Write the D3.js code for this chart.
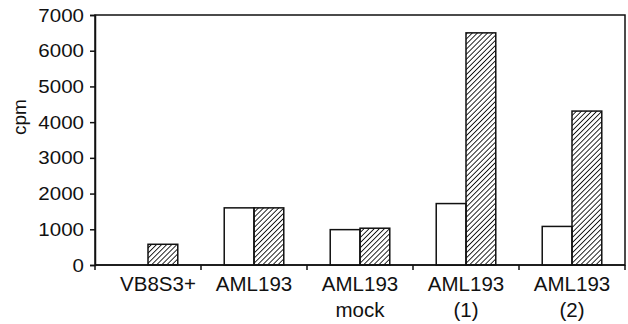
<!DOCTYPE html>
<html>
<head>
<meta charset="utf-8">
<script src="https://cdn.jsdelivr.net/npm/d3@7"></script>
<style>
  body { margin: 0; background: #fff; }
  svg { display: block; font-family: "Liberation Sans", Arial, sans-serif; }
</style>
</head>
<body>
<div id="chart"></div>
<script>
const categories = ['VB8S3+', 'AML193', 'AML193\nmock', 'AML193\n(1)', 'AML193\n(2)'];
const openValues = [0, 1600, 990, 1720, 1080];
const hatchedValues = [580, 1600, 1030, 6500, 4310];
const yTicks = [0, 1000, 2000, 3000, 4000, 5000, 6000, 7000];

const width = 628, height = 324;
const margin = { top: 15, right: 3, bottom: 59, left: 95 };

const svg = d3.select('#chart').append('svg')
  .attr('width', width)
  .attr('height', height);

const defs = svg.append('defs');
defs.append('pattern')
  .attr('id', 'hatch')
  .attr('patternUnits', 'userSpaceOnUse')
  .attr('width', 3.6)
  .attr('height', 3.6)
  .attr('patternTransform', 'rotate(45)')
  .append('line')
  .attr('x1', 0).attr('y1', 0)
  .attr('x2', 0).attr('y2', 3.6)
  .attr('stroke', '#111')
  .attr('stroke-width', 1.8);

const x = d3.scaleBand()
  .domain(categories)
  .range([margin.left, width - margin.right])
  .paddingInner(0)
  .paddingOuter(0);

const inner = d3.scaleBand()
  .domain(['open', 'hatched'])
  .range([0, x.bandwidth()])
  .paddingOuter(0.78)
  .paddingInner(0);

const y = d3.scaleLinear()
  .domain([0, 7000])
  .range([height - margin.bottom, margin.top]);

const data = categories.map((c, i) => ({ cat: c, open: openValues[i], hatched: hatchedValues[i] }));

// frame
svg.append('rect')
  .attr('x', margin.left)
  .attr('y', margin.top)
  .attr('width', width - margin.left - margin.right)
  .attr('height', height - margin.top - margin.bottom)
  .attr('fill', 'none')
  .attr('stroke', '#111')
  .attr('stroke-width', 1.5);

const groups = svg.selectAll('.group')
  .data(data)
  .enter()
  .append('g')
  .attr('transform', d => `translate(${x(d.cat)},0)`);

groups.filter(d => d.open > 0).append('rect')
  .attr('x', inner('open'))
  .attr('y', d => y(d.open))
  .attr('width', inner.bandwidth())
  .attr('height', d => y(0) - y(d.open))
  .attr('fill', '#fff')
  .attr('stroke', '#111')
  .attr('stroke-width', 1.5);

groups.append('rect')
  .attr('x', inner('hatched'))
  .attr('y', d => y(d.hatched))
  .attr('width', inner.bandwidth())
  .attr('height', d => y(0) - y(d.hatched))
  .attr('fill', 'url(#hatch)')
  .attr('stroke', '#111')
  .attr('stroke-width', 1.5);

// y axis
const yAxis = svg.append('g')
  .attr('transform', `translate(${margin.left},0)`)
  .call(d3.axisLeft(y).tickValues(yTicks).tickSize(5).tickPadding(6).tickFormat(d3.format('d')));
yAxis.select('.domain').attr('stroke', '#111').attr('stroke-width', 1.5);
yAxis.selectAll('.tick line').attr('stroke', '#111').attr('stroke-width', 1.5);
// the source font is a little wider than Liberation Sans, so stretch it
yAxis.selectAll('.tick text')
  .attr('x', -11 / 1.08)
  .attr('transform', 'scale(1.08,1)')
  .attr('font-size', 19)
  .attr('fill', '#111')
  .attr('font-family', '"Liberation Sans", Arial, sans-serif');

// x axis
const bounds = categories.map(c => x(c)).concat([x(categories[categories.length - 1]) + x.bandwidth()]);
const xAxis = svg.append('g');
xAxis.append('line')
  .attr('x1', margin.left).attr('x2', width - margin.right)
  .attr('y1', y(0)).attr('y2', y(0))
  .attr('stroke', '#111').attr('stroke-width', 1.5);
xAxis.selectAll('.xtick')
  .data(bounds)
  .enter()
  .append('line')
  .attr('x1', d => d).attr('x2', d => d)
  .attr('y1', y(0)).attr('y2', y(0) + 5)
  .attr('stroke', '#111').attr('stroke-width', 1.5);

const labels = xAxis.selectAll('.xlabel')
  .data(categories)
  .enter()
  .append('text')
  .attr('text-anchor', 'middle')
  .attr('font-size', 20.5)
  .attr('fill', '#111')
  // first label sits a bit right of its slot centre in the original
  .attr('transform', (d, i) => `translate(${x(d) + x.bandwidth() / 2 + (i === 0 ? 10 : 0)},${y(0) + 26})`);
labels.selectAll('tspan')
  .data(d => d.split('\n'))
  .enter()
  .append('tspan')
  .attr('x', 0)
  .attr('dy', (d, i) => i === 0 ? 0 : 26)
  .text(d => d);

// y label
svg.append('text')
  .attr('transform', `translate(26,117) rotate(-90)`)
  .attr('text-anchor', 'middle')
  .attr('font-size', 19)
  .attr('fill', '#111')
  .text('cpm');
</script>
</body>
</html>
